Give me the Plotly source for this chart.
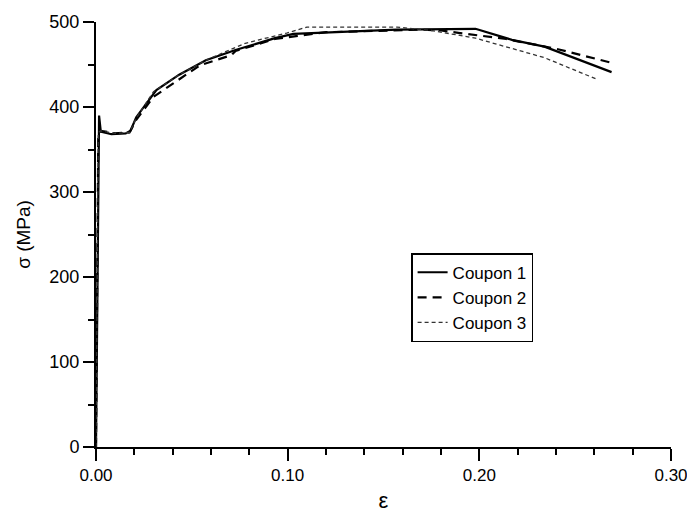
import plotly.graph_objects as go

# strain / stress readings for the three coupons
eps1 = [0, 0.0012, 0.0016, 0.0025, 0.008, 0.0155, 0.018, 0.021, 0.0315, 0.0434,
        0.0573, 0.0728, 0.0934, 0.103, 0.157, 0.198, 0.217, 0.234, 0.269]
sig1 = [0, 365, 390, 371, 368, 369, 372, 388, 420, 438,
        455, 467, 481, 486, 491, 492, 479, 471, 441]

eps2 = [0, 0.0012, 0.0025, 0.01, 0.0175, 0.021, 0.03, 0.0434, 0.0542, 0.0707,
        0.0728, 0.0934, 0.12, 0.17, 0.18, 0.19, 0.214, 0.241, 0.269]
sig2 = [0, 370, 372, 369, 370, 385, 412, 432, 449, 461,
        466, 480, 488, 491, 490, 487, 480, 468, 452]

eps3 = [0, 0.0012, 0.0025, 0.01, 0.0175, 0.021, 0.03, 0.0434, 0.0573, 0.0779,
        0.0995, 0.11, 0.157, 0.175, 0.198, 0.217, 0.234, 0.262]
sig3 = [0, 370, 372, 369, 370, 387, 418, 438, 455, 475,
        487, 494, 494, 490, 481, 469, 458, 432]

x_ticks = [0.0, 0.1, 0.2, 0.3]
x_labels = ["0.00", "0.10", "0.20", "0.30"]
y_ticks = [0, 100, 200, 300, 400, 500]

fig = go.Figure()
fig.add_trace(go.Scatter(x=eps1, y=sig1, mode="lines", name="Coupon 1",
                         line=dict(color="black", width=2.2)))
fig.add_trace(go.Scatter(x=eps2, y=sig2, mode="lines", name="Coupon 2",
                         line=dict(color="black", width=2.2, dash="9px,6px")))
fig.add_trace(go.Scatter(x=eps3, y=sig3, mode="lines", name="Coupon 3",
                         line=dict(color="#333333", width=1.3, dash="4px,3px")))

font = "Liberation Sans, Arial, sans-serif"
# page body adds 8px on every side: size the figure so the page never scrolls
fig.update_layout(
    width=679, height=505,
    margin=dict(l=88, r=16, t=14, b=66),
    plot_bgcolor="white", paper_bgcolor="white",
    font=dict(family=font, size=18, color="black"),
    showlegend=True,
    legend=dict(x=0.548, y=0.456, xanchor="left", yanchor="top",
                bordercolor="black", borderwidth=1.5, bgcolor="white",
                font=dict(size=17), tracegroupgap=0),
)
fig.update_xaxes(
    range=[0, 0.30], tickvals=x_ticks, ticktext=x_labels, automargin=False,
    ticklabeloverflow="allow", tickfont=dict(size=17),
    showline=True, linecolor="black", linewidth=2, showgrid=False, zeroline=False,
    ticks="outside", ticklen=12, tickwidth=2, tickcolor="black",
    minor=dict(ticks="outside", dtick=0.02, ticklen=6, tickwidth=2, tickcolor="black"),
    title=dict(text="ε", font=dict(size=22), standoff=12),
)
fig.update_yaxes(
    range=[0, 500], tickvals=y_ticks, automargin=False,
    showline=True, linecolor="black", linewidth=2, showgrid=False, zeroline=False,
    ticks="outside", ticklen=11, tickwidth=2, tickcolor="black",
    minor=dict(ticks="outside", dtick=50, ticklen=6, tickwidth=2, tickcolor="black"),
    title=dict(text="σ (MPa)", font=dict(size=19), standoff=14),
)

fig.write_html("out.html")
